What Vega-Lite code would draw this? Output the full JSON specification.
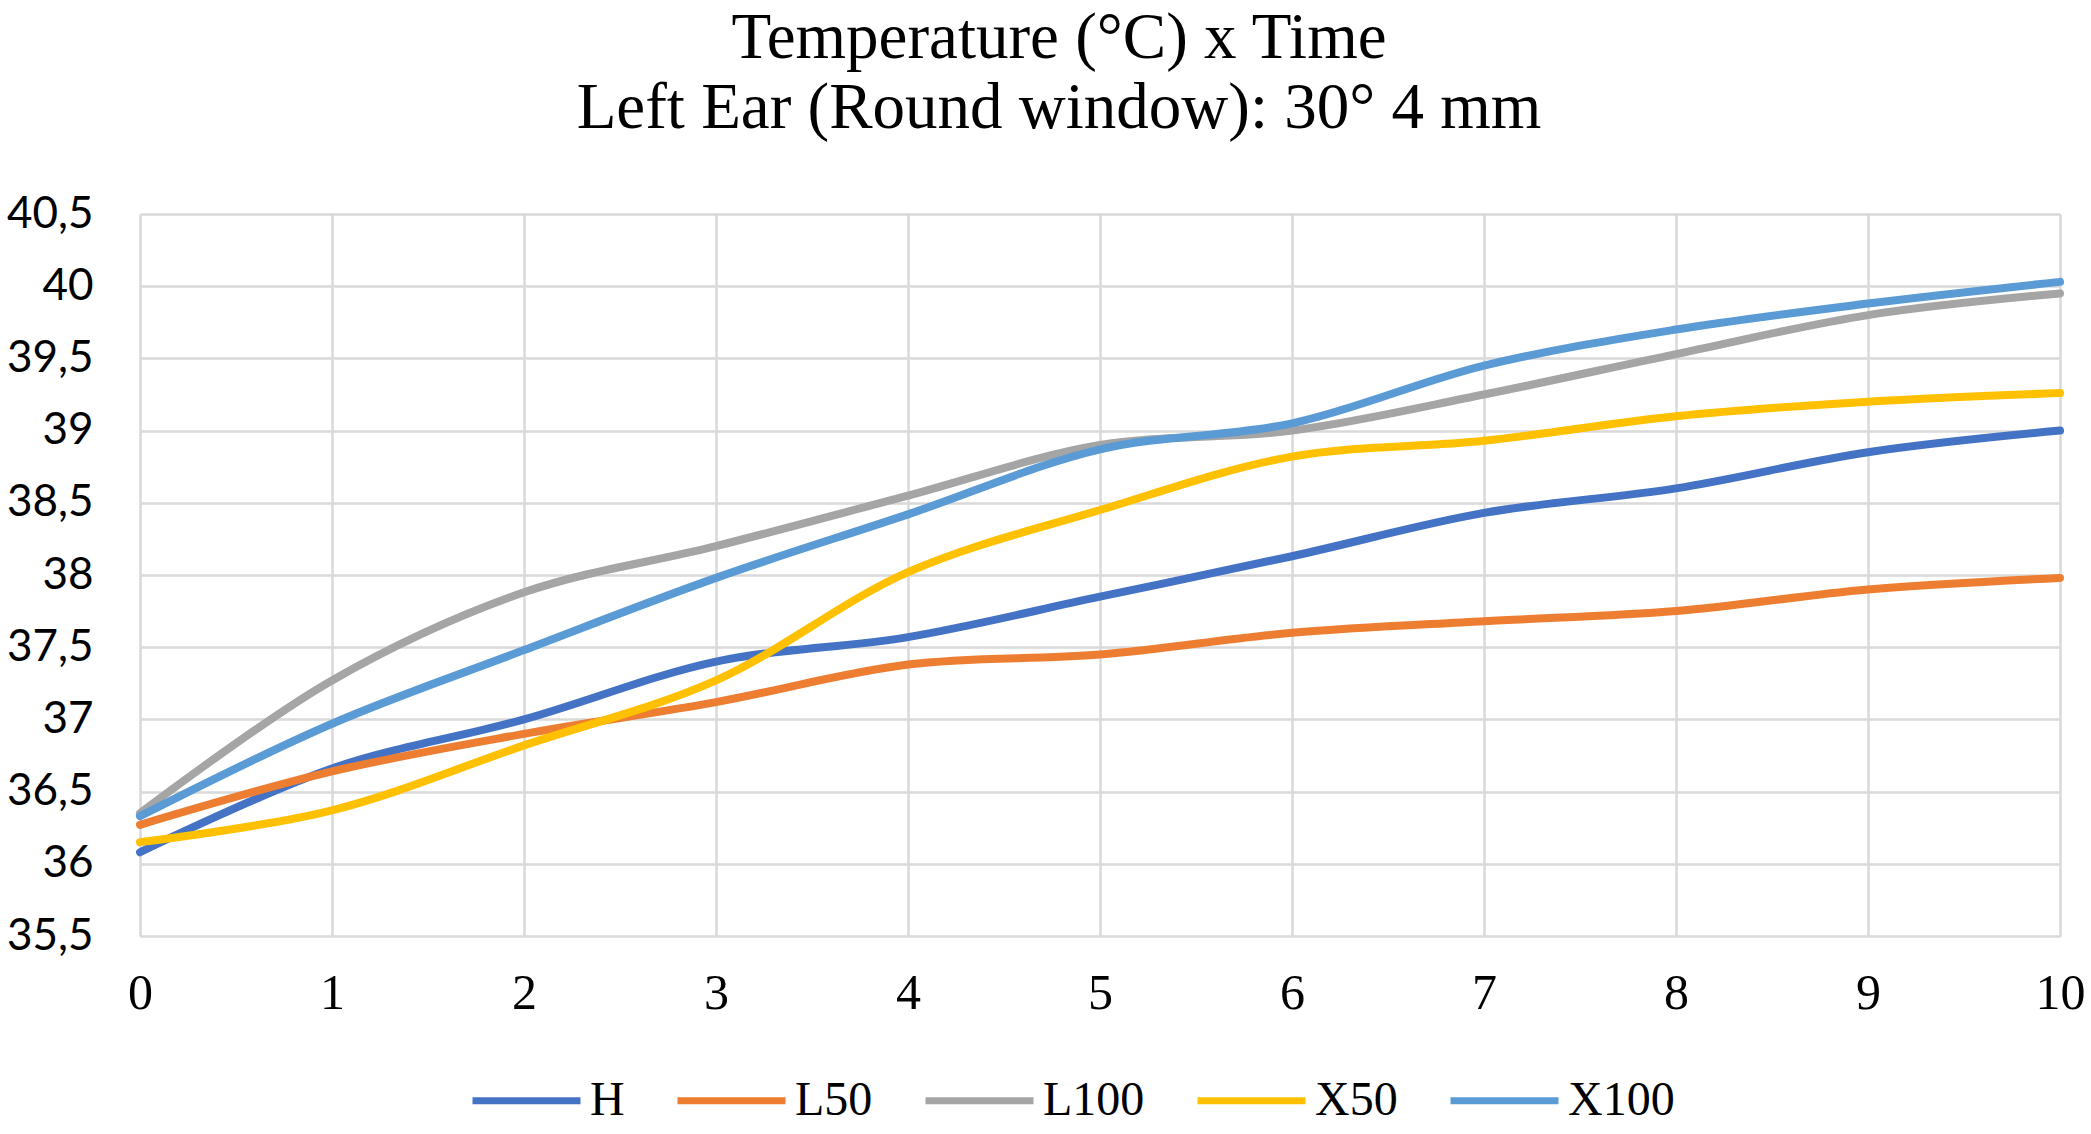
{
  "$schema": "https://vega.github.io/schema/vega-lite/v6.json",
  "autosize": "none",
  "width": 1920,
  "height": 722,
  "padding": {"left": 140, "top": 214, "right": 31, "bottom": 198},
  "background": "white",
  "title": {
    "text": ["Temperature (°C) x Time", "Left Ear (Round window): 30° 4 mm"],
    "font": "Liberation Serif",
    "fontSize": 65,
    "fontWeight": "normal",
    "color": "#000",
    "lineHeight": 70,
    "offset": 50,
    "dx": -41
  },
  "data": {
    "values": [
      {"t": 0, "series": "H", "temp": 36.08},
      {"t": 1, "series": "H", "temp": 36.66},
      {"t": 2, "series": "H", "temp": 37.0},
      {"t": 3, "series": "H", "temp": 37.4},
      {"t": 4, "series": "H", "temp": 37.57},
      {"t": 5, "series": "H", "temp": 37.85},
      {"t": 6, "series": "H", "temp": 38.13},
      {"t": 7, "series": "H", "temp": 38.43},
      {"t": 8, "series": "H", "temp": 38.6},
      {"t": 9, "series": "H", "temp": 38.85},
      {"t": 10, "series": "H", "temp": 39.0},
      {"t": 0, "series": "L50", "temp": 36.27},
      {"t": 1, "series": "L50", "temp": 36.64},
      {"t": 2, "series": "L50", "temp": 36.9},
      {"t": 3, "series": "L50", "temp": 37.12},
      {"t": 4, "series": "L50", "temp": 37.38},
      {"t": 5, "series": "L50", "temp": 37.45},
      {"t": 6, "series": "L50", "temp": 37.6},
      {"t": 7, "series": "L50", "temp": 37.68},
      {"t": 8, "series": "L50", "temp": 37.75},
      {"t": 9, "series": "L50", "temp": 37.9},
      {"t": 10, "series": "L50", "temp": 37.98},
      {"t": 0, "series": "L100", "temp": 36.35},
      {"t": 1, "series": "L100", "temp": 37.27},
      {"t": 2, "series": "L100", "temp": 37.88},
      {"t": 3, "series": "L100", "temp": 38.2},
      {"t": 4, "series": "L100", "temp": 38.55},
      {"t": 5, "series": "L100", "temp": 38.9},
      {"t": 6, "series": "L100", "temp": 39.0},
      {"t": 7, "series": "L100", "temp": 39.25},
      {"t": 8, "series": "L100", "temp": 39.53},
      {"t": 9, "series": "L100", "temp": 39.8},
      {"t": 10, "series": "L100", "temp": 39.95},
      {"t": 0, "series": "X50", "temp": 36.15},
      {"t": 1, "series": "X50", "temp": 36.37},
      {"t": 2, "series": "X50", "temp": 36.82},
      {"t": 3, "series": "X50", "temp": 37.27},
      {"t": 4, "series": "X50", "temp": 38.02},
      {"t": 5, "series": "X50", "temp": 38.45},
      {"t": 6, "series": "X50", "temp": 38.82},
      {"t": 7, "series": "X50", "temp": 38.93},
      {"t": 8, "series": "X50", "temp": 39.1},
      {"t": 9, "series": "X50", "temp": 39.2},
      {"t": 10, "series": "X50", "temp": 39.26},
      {"t": 0, "series": "X100", "temp": 36.33},
      {"t": 1, "series": "X100", "temp": 36.97},
      {"t": 2, "series": "X100", "temp": 37.48},
      {"t": 3, "series": "X100", "temp": 37.98},
      {"t": 4, "series": "X100", "temp": 38.42},
      {"t": 5, "series": "X100", "temp": 38.87},
      {"t": 6, "series": "X100", "temp": 39.05},
      {"t": 7, "series": "X100", "temp": 39.45},
      {"t": 8, "series": "X100", "temp": 39.7},
      {"t": 9, "series": "X100", "temp": 39.88},
      {"t": 10, "series": "X100", "temp": 40.03}
    ]
  },
  "mark": {"type": "line", "interpolate": "catmull-rom", "strokeWidth": 8, "strokeCap": "round"},
  "encoding": {
    "x": {
      "field": "t",
      "type": "quantitative",
      "scale": {"domain": [0, 10], "nice": false},
      "axis": {
        "title": null,
        "values": [0, 1, 2, 3, 4, 5, 6, 7, 8, 9, 10],
        "domain": false,
        "ticks": false,
        "grid": true,
        "gridColor": "#d9d9d9",
        "gridWidth": 2.5,
        "labelFlush": false,
        "labelFont": "Liberation Serif",
        "labelFontSize": 50,
        "labelColor": "#000",
        "labelPadding": 32
      }
    },
    "y": {
      "field": "temp",
      "type": "quantitative",
      "scale": {"domain": [35.5, 40.5], "nice": false, "zero": false},
      "axis": {
        "title": null,
        "values": [35.5, 36, 36.5, 37, 37.5, 38, 38.5, 39, 39.5, 40, 40.5],
        "labelExpr": "replace(format(datum.value, '~g'), '.', ',')",
        "domain": false,
        "ticks": false,
        "grid": true,
        "gridColor": "#d9d9d9",
        "gridWidth": 2.5,
        "labelFont": "Lato",
        "labelFontSize": 44,
        "labelColor": "#000",
        "labelPadding": 47
      }
    },
    "color": {
      "field": "series",
      "type": "nominal",
      "scale": {
        "domain": ["H", "L50", "L100", "X50", "X100"],
        "range": ["#4472c4", "#ed7d31", "#a5a5a5", "#ffc000", "#5b9bd5"]
      },
      "legend": {
        "title": null,
        "orient": "none",
        "direction": "horizontal",
        "legendX": 329,
        "legendY": 829,
        "symbolType": "stroke",
        "symbolSize": 11664,
        "symbolStrokeWidth": 7,
        "labelFont": "Liberation Serif",
        "labelFontSize": 48,
        "labelColor": "#000",
        "labelOffset": 6,
        "columnPadding": 38
      }
    }
  }
}
